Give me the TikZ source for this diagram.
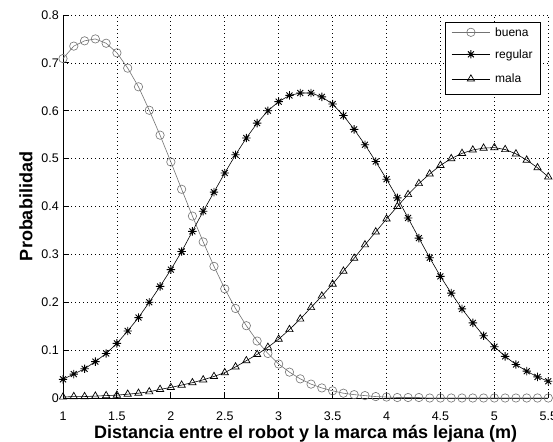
\documentclass[tikz,border=0pt]{standalone}
\usepackage{fontspec}
\setmainfont{Liberation Sans}
\usetikzlibrary{plotmarks}

% MATLAB style '*' marker
\pgfdeclareplotmark{matstar}{%
  \pgfpathmoveto{\pgfqpoint{-\pgfplotmarksize}{0pt}}\pgfpathlineto{\pgfqpoint{\pgfplotmarksize}{0pt}}%
  \pgfpathmoveto{\pgfqpoint{0pt}{-\pgfplotmarksize}}\pgfpathlineto{\pgfqpoint{0pt}{\pgfplotmarksize}}%
  \pgfpathmoveto{\pgfqpoint{-.707\pgfplotmarksize}{-.707\pgfplotmarksize}}\pgfpathlineto{\pgfqpoint{.707\pgfplotmarksize}{.707\pgfplotmarksize}}%
  \pgfpathmoveto{\pgfqpoint{-.707\pgfplotmarksize}{.707\pgfplotmarksize}}\pgfpathlineto{\pgfqpoint{.707\pgfplotmarksize}{-.707\pgfplotmarksize}}%
  \pgfusepathqstroke}

\begin{document}
\begin{tikzpicture}[
    gridline/.style={black, line width=0.7pt, dash pattern=on 0.7pt off 3.3pt},
    axisline/.style={black, line width=0.9pt},
    ticklabel/.style={font=\fontsize{12.5}{14}\selectfont, inner sep=0pt},
    axislabel/.style={font=\fontsize{18}{20}\selectfont\bfseries, inner sep=0pt},
    buenacurve/.style={black!55, line width=0.6pt, mark=o, mark size=4.2pt, mark options={line width=0.6pt}},
    regularcurve/.style={black, line width=0.6pt, mark=matstar, mark size=4.2pt, mark options={line width=0.9pt}},
    malacurve/.style={black, line width=0.6pt, mark=triangle, mark size=4.2pt, mark options={line width=0.7pt}}
]
\useasboundingbox (0,0) rectangle (553pt,441pt);
\fill[white] (0,0) rectangle (553pt,441pt);

% plot area in data coordinates
\begin{scope}[x=107.84pt, y=478.75pt, shift={(-44.84pt,43pt)}]
    % grid
    \foreach \gx in {1,1.5,...,5.5}
        \draw[gridline] (\gx,0) -- (\gx,0.8);
    \foreach \gy in {0.1,0.2,0.3,0.4,0.5,0.6,0.7,0.8}
        \draw[gridline] (1,\gy) -- (5.5,\gy);

    % axes and ticks
    \draw[axisline] (1,0.8) -- (1,0) -- (5.5,0);
    \foreach \gx [count=\i] in {1,1.5,2,2.5,3,3.5,4,4.5,5,5.5} {
        \draw[axisline] (\gx,0) -- ++(0,6pt);
        \node[ticklabel, anchor=base, yshift=-23pt] (xtick\i) at (\gx,0) {\gx};
    }
    \foreach \gy [count=\i] in {0,0.1,0.2,0.3,0.4,0.5,0.6,0.7,0.8} {
        \draw[axisline] (1,\gy) -- ++(6pt,0);
        \node[ticklabel, anchor=east, xshift=-4pt] (ytick\i) at (1,\gy) {\gy};
    }

    % buena
    \draw[buenacurve] plot coordinates {(1.0,0.709) (1.1,0.735) (1.2,0.746) (1.3,0.750) (1.4,0.741)
        (1.5,0.721) (1.6,0.689) (1.7,0.650) (1.8,0.601) (1.9,0.549) (2.0,0.493) (2.1,0.436)
        (2.2,0.380) (2.3,0.326) (2.4,0.275) (2.5,0.228) (2.6,0.187) (2.7,0.151) (2.8,0.119)
        (2.9,0.093) (3.0,0.071) (3.1,0.054) (3.2,0.040) (3.3,0.029) (3.4,0.021) (3.5,0.015)
        (3.6,0.010) (3.7,0.007) (3.8,0.005) (3.9,0.003) (4.0,0.002) (4.1,0.001) (4.2,0.001)
        (4.3,0.001) (4.4,0) (4.5,0) (4.6,0) (4.7,0) (4.8,0) (4.9,0) (5.0,0) (5.1,0) (5.2,0)
        (5.3,0) (5.4,0) (5.5,0)};

    % regular
    \draw[regularcurve] plot coordinates {(1.0,0.039) (1.1,0.050) (1.2,0.061) (1.3,0.076) (1.4,0.093)
        (1.5,0.114) (1.6,0.140) (1.7,0.168) (1.8,0.200) (1.9,0.233) (2.0,0.268) (2.1,0.306)
        (2.2,0.348) (2.3,0.390) (2.4,0.430) (2.5,0.470) (2.6,0.508) (2.7,0.543) (2.8,0.574)
        (2.9,0.600) (3.0,0.619) (3.1,0.632) (3.2,0.637) (3.3,0.637) (3.4,0.629) (3.5,0.614)
        (3.6,0.590) (3.7,0.561) (3.8,0.529) (3.9,0.494) (4.0,0.457) (4.1,0.418) (4.2,0.376)
        (4.3,0.334) (4.4,0.293) (4.5,0.254) (4.6,0.219) (4.7,0.186) (4.8,0.157) (4.9,0.130)
        (5.0,0.107) (5.1,0.087) (5.2,0.070) (5.3,0.056) (5.4,0.044) (5.5,0.035)};

    % mala
    \draw[malacurve] plot coordinates {(1.0,0.002) (1.1,0.003) (1.2,0.003) (1.3,0.004) (1.4,0.005)
        (1.5,0.006) (1.6,0.008) (1.7,0.010) (1.8,0.013) (1.9,0.018) (2.0,0.022) (2.1,0.027)
        (2.2,0.032) (2.3,0.038) (2.4,0.045) (2.5,0.053) (2.6,0.065) (2.7,0.078) (2.8,0.091)
        (2.9,0.106) (3.0,0.123) (3.1,0.143) (3.2,0.165) (3.3,0.189) (3.4,0.213) (3.5,0.238)
        (3.6,0.265) (3.7,0.292) (3.8,0.320) (3.9,0.347) (4.0,0.374) (4.1,0.400) (4.2,0.425)
        (4.3,0.448) (4.4,0.468) (4.5,0.486) (4.6,0.500) (4.7,0.511) (4.8,0.518) (4.9,0.522)
        (5.0,0.523) (5.1,0.519) (5.2,0.510) (5.3,0.497) (5.4,0.481) (5.5,0.462)};

    % axis labels
    \node[axislabel, anchor=base] (xlabel) at ([yshift=-40.3pt]3.25,0) {Distancia entre el robot y la marca más lejana (m)};
    \node[axislabel, rotate=90] (ylabel) at ([xshift=-37pt]1,0.4) {Probabilidad};
\end{scope}

% legend
\node[draw, fill=white, line width=0.8pt, minimum width=95pt, minimum height=72pt,
      anchor=north west, inner sep=0pt] (legendbox) at (445pt,419pt) {};
\foreach \name/\sty/\dy [count=\i] in {buena/buenacurve/10.3, regular/regularcurve/32.3, mala/malacurve/57} {
    \coordinate (leg\i) at ([shift={(6.7pt,-\dy pt)}]legendbox.north west);
    \draw[\sty, mark=none] (leg\i) -- ++(38.3pt,0);
    \draw[\sty] plot coordinates {([xshift=19.2pt]leg\i)};
    \node[ticklabel, font=\fontsize{12}{14}\selectfont, anchor=base west] (legtext\i)
        at ([shift={(43.3pt,-4pt)}]leg\i) {\name};
}
\end{tikzpicture}
\end{document}
